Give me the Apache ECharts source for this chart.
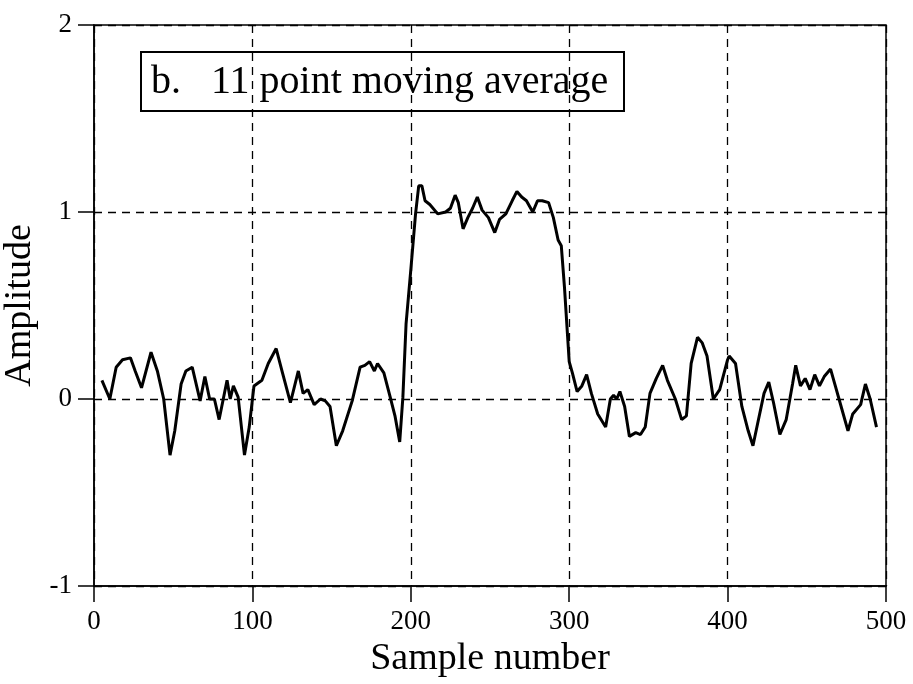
<!DOCTYPE html>
<html><head><meta charset="utf-8">
<script src="https://cdn.jsdelivr.net/npm/echarts@6/dist/echarts.min.js"></script>
<style>html,body{margin:0;padding:0;background:#fff}#c{width:913px;height:684px}</style>
</head><body><div id="c"></div>
<script>
const sampleX = [5,10,14,18,23,26,30,36,40,44,48,51,55,58,62,67,70,73,76,79,84,86,88,91,95,98,
101,106,110,115,119,124,129,132,135,139,143,146,149,153,157,163,168,171,174,177,179,183,187,190,193,195,197,
200,203,205,207,209,212,217,222,225,228,230,233,236,239,242,245,249,253,256,260,264,267,270,273,277,280,283,287,290,293,295,297,
300,302,305,308,311,314,318,323,326,328,330,332,335,338,342,345,348,351,355,359,362,367,371,374,377,381,384,387,391,395,
400,401,405,409,413,416,419,423,426,429,433,437,441,443,446,449,452,455,458,461,465,468,471,476,479,484,487,490,494];
const amplitude = [0.10,0.00,0.17,0.21,0.22,0.15,0.06,0.25,0.15,0.00,-0.30,-0.17,0.08,0.15,0.17,-0.01,0.12,0.00,0.00,-0.11,0.10,0.00,0.07,0.01,-0.30,-0.15,
0.07,0.10,0.19,0.27,0.14,-0.02,0.15,0.03,0.05,-0.03,0.00,-0.01,-0.04,-0.25,-0.17,-0.01,0.17,0.18,0.20,0.15,0.19,0.14,0.01,-0.09,-0.23,0.01,0.40,
0.69,0.99,1.14,1.14,1.06,1.04,0.99,1.00,1.02,1.09,1.05,0.91,0.97,1.02,1.08,1.01,0.97,0.89,0.96,0.99,1.06,1.11,1.08,1.06,1.00,1.06,1.06,1.05,0.97,0.85,0.82,0.60,
0.20,0.14,0.04,0.07,0.13,0.03,-0.08,-0.15,0.00,0.02,0.00,0.04,-0.04,-0.20,-0.18,-0.19,-0.15,0.03,0.11,0.18,0.10,0.00,-0.11,-0.09,0.19,0.33,0.30,0.23,0.00,0.05,
0.21,0.23,0.19,-0.04,-0.17,-0.25,-0.13,0.03,0.09,-0.02,-0.19,-0.11,0.08,0.18,0.07,0.11,0.05,0.13,0.07,0.12,0.16,0.07,-0.02,-0.17,-0.08,-0.03,0.08,0.00,-0.15];
const labelText = 'b.   11 point moving average';
const xTitle = 'Sample number';
const yTitle = 'Amplitude';

const chart = echarts.init(document.getElementById('c'));
const font = '"Liberation Serif","DejaVu Serif",serif';
const axisCommon = {
  axisLine: {show: true, onZero: false, lineStyle: {color: '#000', width: 1.5}},
  axisTick: {show: true, inside: false, length: 16, lineStyle: {color: '#000', width: 1.5}},
  splitLine: {show: true, lineStyle: {color: '#000', width: 1.3, type: [8, 6]}},
  axisLabel: {color: '#000', fontFamily: font, fontSize: 27},
  nameTextStyle: {color: '#000', fontFamily: font, fontSize: 38}
};
chart.setOption({
  animation: false,
  backgroundColor: '#fff',
  grid: {left: 94, right: 27, top: 25, bottom: 98, containLabel: false, outerBoundsMode: 'none',
         show: true, borderColor: '#000', borderWidth: 1.5, backgroundColor: 'transparent'},
  xAxis: Object.assign({}, axisCommon, {
    type: 'value', min: 0, max: 500, interval: 100,
    name: xTitle, nameLocation: 'middle', nameGap: 54,
    axisLabel: Object.assign({}, axisCommon.axisLabel, {margin: 22})
  }),
  yAxis: Object.assign({}, axisCommon, {
    type: 'value', min: -1, max: 2, interval: 1,
    name: yTitle, nameLocation: 'middle', nameGap: 48,
    axisLabel: Object.assign({}, axisCommon.axisLabel, {margin: 22})
  }),
  graphic: [{
    type: 'group', left: 140, top: 51,
    children: [
      {type: 'rect', shape: {x: 0, y: 0, width: 483, height: 59}, style: {fill: '#fff', stroke: '#000', lineWidth: 2}},
      {type: 'text', x: 10, y: 30, style: {text: labelText, font: '40px ' + font, fill: '#000', textVerticalAlign: 'middle', verticalAlign: 'middle'}}
    ]
  }],
  series: [{
    type: 'line', showSymbol: false, smooth: false,
    lineStyle: {color: '#000', width: 3},
    data: sampleX.map((x, i) => [x, amplitude[i]])
  }]
});
</script></body></html>
